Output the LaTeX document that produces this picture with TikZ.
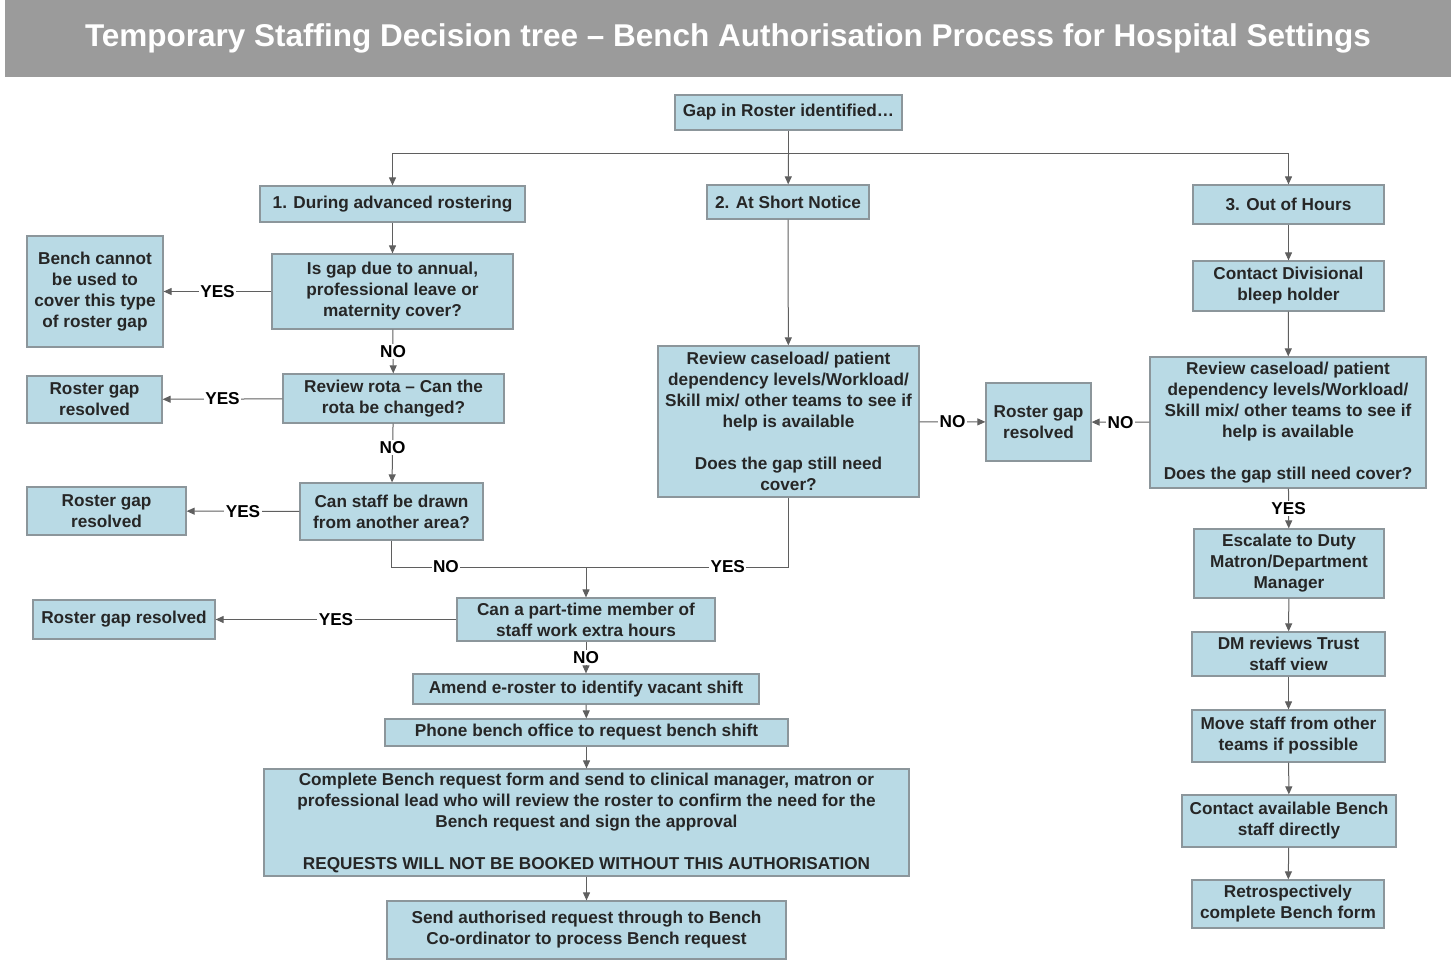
\documentclass[tikz,border=0pt]{standalone}
\usepackage{fontspec}
\setmainfont{Liberation Sans}
\usepackage{tikz}
\usetikzlibrary{shapes,arrows.meta,positioning}

\definecolor{boxfill}{RGB}{185,218,229}
\definecolor{boxline}{RGB}{140,150,155}
\definecolor{titlebar}{RGB}{155,155,155}
\definecolor{linkline}{RGB}{95,95,95}

\begin{document}
\begin{tikzpicture}[
      x=1pt, y=-1pt,
      font=\fontsize{17.2}{21}\selectfont\bfseries,
      box/.style={draw=boxline, fill=boxfill, line width=1.2pt, align=center,
        inner sep=1pt, text=black!85},
      link/.style={draw=linkline, line width=1pt},
      arr/.style={link, -{Triangle[length=8pt,width=7pt]}},
      lbl/.style={fill=white, inner sep=1.5pt}
    ]
    \useasboundingbox (0,0) rectangle (1451,960);
    \node[fill=titlebar, minimum width=1446pt, minimum height=77pt, inner sep=0pt,
      text=white, font=\fontsize{31.5}{34}\selectfont\bfseries] (title) at (728,38.5)
      {Temporary Staffing Decision tree -- Bench Authorisation Process for Hospital Settings};

    \node[box, minimum width=227pt, minimum height=35pt] (gap) at (788.5,112.5) {Gap in Roster identified\dots};
    \coordinate (split) at (788.5,154);

    \node[box, minimum width=265pt, minimum height=36pt] (advance) at (392.5,204) {1. During advanced rostering};
    \node[box, minimum width=162pt, minimum height=34pt] (short) at (788,202) {2. At Short Notice};
    \node[box, minimum width=191pt, minimum height=39pt] (hours) at (1288.5,204.5) {3. Out of Hours};

    \node[box, minimum width=241pt, minimum height=75pt] (leave) at (392.5,291.5)
      {Is gap due to annual,\\ professional leave or\\ maternity cover?};
    \node[box, minimum width=136pt, minimum height=111pt] (nobench) at (95,291.5)
      {Bench cannot\\ be used to\\ cover this type\\ of roster gap};
    \node[box, minimum width=221pt, minimum height=49pt] (rota) at (393.5,398.5)
      {Review rota -- Can the\\ rota be changed?};
    \node[box, minimum width=135pt, minimum height=47pt] (rotaok) at (94.5,399.5)
      {Roster gap\\ resolved};
    \node[box, minimum width=183pt, minimum height=57pt] (area) at (391.5,511.5)
      {Can staff be drawn\\ from another area?};
    \node[box, minimum width=159pt, minimum height=48pt] (areaok) at (106.5,511)
      {Roster gap\\ resolved};
    \coordinate (merge) at (586,567);

    \node[box, minimum width=261pt, minimum height=151pt] (caseload) at (788.5,421.5)
      {Review caseload/ patient\\ dependency levels/Workload/\\ Skill mix/ other teams to see if\\ help is available\\[21pt] Does the gap still need\\ cover?};
    \node[box, minimum width=105pt, minimum height=78pt] (middleok) at (1038.5,422)
      {Roster gap\\ resolved};

    \node[box, minimum width=258pt, minimum height=43pt] (parttime) at (586,619.5)
      {Can a part-time member of\\ staff work extra hours};
    \node[box, minimum width=182pt, minimum height=39pt] (parttimeok) at (124,619.5)
      {Roster gap resolved};
    \node[box, minimum width=346pt, minimum height=30pt] (amend) at (586,689) {Amend e-roster to identify vacant shift};
    \node[box, minimum width=403pt, minimum height=27pt] (phone) at (586.5,732.5) {Phone bench office to request bench shift};
    \node[box, minimum width=645pt, minimum height=107pt] (form) at (586.5,822.5)
      {Complete Bench request form and send to clinical manager, matron or\\ professional lead who will review the roster to confirm the need for the\\ Bench request and sign the approval\\[21pt] REQUESTS WILL NOT BE BOOKED WITHOUT THIS AUTHORISATION};
    \node[box, minimum width=399pt, minimum height=58pt] (send) at (586.5,930)
      {Send authorised request through to Bench\\ Co-ordinator to process Bench request};

    \node[box, minimum width=191pt, minimum height=50pt] (bleep) at (1288.5,286)
      {Contact Divisional\\ bleep holder};
    \node[box, minimum width=276pt, minimum height=131pt] (oohload) at (1288,422.5)
      {Review caseload/ patient\\ dependency levels/Workload/\\ Skill mix/ other teams to see if\\ help is available\\[21pt] Does the gap still need cover?};
    \node[box, minimum width=190pt, minimum height=69pt] (escalate) at (1289,563.5)
      {Escalate to Duty\\ Matron/Department\\ Manager};
    \node[box, minimum width=193pt, minimum height=44pt] (trust) at (1288.5,654)
      {DM reviews Trust\\ staff view};
    \node[box, minimum width=193pt, minimum height=52pt] (move) at (1288.5,736)
      {Move staff from other\\ teams if possible};
    \node[box, minimum width=214pt, minimum height=52pt] (direct) at (1289,821)
      {Contact available Bench\\ staff directly};
    \node[box, minimum width=192pt, minimum height=48pt] (retro) at (1288,904)
      {Retrospectively\\ complete Bench form};

    \draw[link] (gap) -- (split);
    \draw[arr] (split) -| (advance);
    \draw[arr] (split) -- (short);
    \draw[arr] (split) -| (hours);

    \draw[arr] (advance) -- (leave);
    \draw[arr] (leave) -- node[lbl] {YES} (nobench);
    \draw[arr] (leave) -- node[lbl] {NO} (rota);
    \draw[arr] (rota) -- node[lbl] {YES} (rotaok);
    \draw[arr] (rota) -- node[lbl, pos=0.4] {NO} (area);
    \draw[arr] (area) -- node[lbl] {YES} (areaok);
    \draw[link] (area) |- node[lbl, pos=0.64] {NO} (merge);
    \draw[link] (caseload) |- node[lbl, pos=0.65] {YES} (merge);
    \draw[arr] (merge) -- (parttime);

    \draw[arr] (short) -- (caseload);
    \draw[arr] (caseload) -- node[lbl] {NO} (middleok);

    \draw[arr] (parttime) -- node[lbl] {YES} (parttimeok);
    \draw[arr] (parttime) -- node[lbl] {NO} (amend);
    \draw[arr] (amend) -- (phone);
    \draw[arr] (phone) -- (form);
    \draw[arr] (form) -- (send);

    \draw[arr] (hours) -- (bleep);
    \draw[arr] (bleep) -- (oohload);
    \draw[arr] (oohload) -- node[lbl] {NO} (middleok);
    \draw[arr] (oohload) -- node[lbl] {YES} (escalate);
    \draw[arr] (escalate) -- (trust);
    \draw[arr] (trust) -- (move);
    \draw[arr] (move) -- (direct);
    \draw[arr] (direct) -- (retro);
  \end{tikzpicture}
\end{document}
